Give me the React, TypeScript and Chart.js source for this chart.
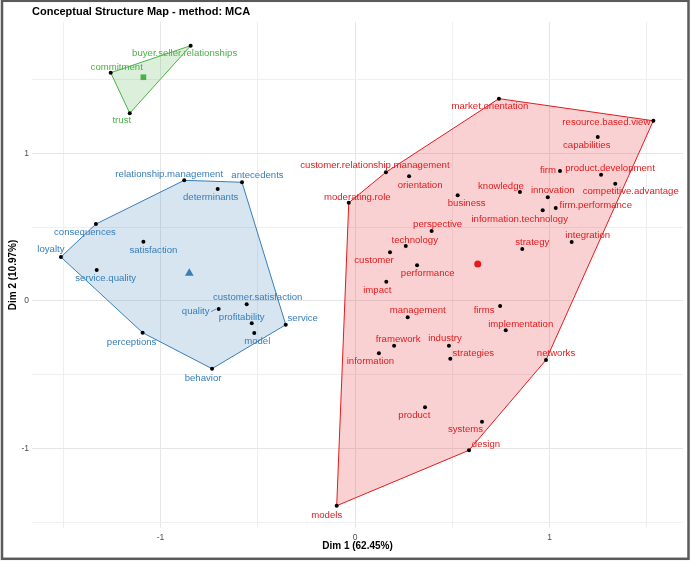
import React, { useEffect, useRef } from 'react';
import { Chart, registerables } from 'chart.js';

Chart.register(...registerables);

// ---------- data ----------
const titleText = 'Conceptual Structure Map - method: MCA';
const xTitle = 'Dim 1 (62.45%)';
const yTitle = 'Dim 2 (10.97%)';
const gridValues = [-1.5, -1, -0.5, 0, 0.5, 1, 1.5];

const greenWords = ['buyer.seller.relationships', 'commitment', 'trust'];
const greenX = [-0.845, -1.256, -1.158];
const greenY = [1.731, 1.548, 1.273];
const greenCentroid = [-1.088, 1.517];
const greenHull = ['commitment', 'buyer.seller.relationships', 'trust'];

const blueWords = [
  'relationship.management', 'antecedents', 'determinants', 'consequences', 'satisfaction',
  'loyalty', 'service.quality', 'customer.satisfaction', 'quality', 'profitability',
  'model', 'service', 'perceptions', 'behavior',
];
const blueX = [-0.878, -0.581, -0.706, -1.332, -1.088, -1.512, -1.328, -0.557, -0.701, -0.531, -0.518, -0.356, -1.092, -0.735];
const blueY = [0.818, 0.805, 0.759, 0.522, 0.402, 0.298, 0.21, -0.022, -0.054, -0.151, -0.217, -0.161, -0.215, -0.459];
const blueCentroid = [-0.852, 0.188];
const blueHull = ['loyalty', 'consequences', 'relationship.management', 'antecedents', 'service', 'behavior', 'perceptions'];

const redWords = [
  'market.orientation', 'resource.based.view', 'capabilities', 'customer.relationship.management',
  'orientation', 'firm', 'product.development', 'competitive.advantage', 'moderating.role',
  'business', 'knowledge', 'innovation', 'firm.performance', 'information.technology',
  'perspective', 'technology', 'integration', 'strategy', 'customer', 'performance', 'impact',
  'firms', 'management', 'implementation', 'framework', 'industry', 'information', 'strategies',
  'networks', 'product', 'systems', 'design', 'models',
];
const redX = [0.74, 1.534, 1.248, 0.159, 0.278, 1.054, 1.265, 1.338, -0.032, 0.528, 0.848, 0.991, 1.032, 0.965,
  0.394, 0.261, 1.114, 0.86, 0.18, 0.319, 0.161, 0.746, 0.271, 0.775, 0.201, 0.483, 0.123, 0.49,
  0.982, 0.36, 0.653, 0.586, -0.094];
const redY = [1.372, 1.222, 1.112, 0.873, 0.845, 0.881, 0.856, 0.795, 0.666, 0.717, 0.739, 0.703, 0.631, 0.615,
  0.475, 0.373, 0.4, 0.353, 0.33, 0.242, 0.131, -0.034, -0.111, -0.199, -0.303, -0.303, -0.355, -0.391,
  -0.4, -0.721, -0.818, -1.012, -1.388];
const redCentroid = [0.631, 0.251];
const redHull = ['models', 'design', 'networks', 'resource.based.view', 'market.orientation', 'customer.relationship.management', 'moderating.role'];

// ---------- styling / label placement (pixel offsets from each point) ----------
const GREEN = '#4daf4a';
const BLUE = '#377eb8';
const RED = '#e41a1c';
const labelOffsets: Record<string, [number, number]> = {
  'buyer.seller.relationships': [-6, 8], commitment: [6, -5], trust: [-8, 7.5],
  'relationship.management': [-15, -6], antecedents: [15.5, -6.6], determinants: [-7, 8.3],
  consequences: [-11, 8.3], satisfaction: [10, 8.6], loyalty: [-10, -7.3], 'service.quality': [9, 8],
  'customer.satisfaction': [11, -7], quality: [-23, 2.7], profitability: [-10, -6], model: [3, 8.7],
  service: [17, -6], perceptions: [-11, 9.6], behavior: [-9, 9.3],
  'market.orientation': [-9, 7.3], 'resource.based.view': [-47, 1.6], capabilities: [-11, 8.7],
  'customer.relationship.management': [-11, -7], orientation: [11, 9], firm: [-12, -1],
  'product.development': [9, -6.7], 'competitive.advantage': [15.5, 7.6], 'moderating.role': [8.5, -5.4],
  business: [9, 8.4], knowledge: [-19, -6], innovation: [5, -6.6], 'firm.performance': [40, -2.3],
  'information.technology': [-23, 9], perspective: [6, -6.3], technology: [9, -6], integration: [16, -6.7],
  strategy: [10, -6.3], customer: [-16, 8.4], performance: [10.7, 8], impact: [-9, 8.3], firms: [-16, 4],
  management: [10, -7], implementation: [15, -6.3], framework: [4, -6.7], industry: [-4, -7],
  information: [-8.5, 7.7], strategies: [23, -5.4], networks: [10, -6.7], product: [-10.7, 8.4],
  systems: [-16.5, 8], design: [17, -6], models: [-10, 9.6],
};
const segmentLabels = ['quality'];
const FONT = '"Liberation Sans", Arial, sans-serif';

const clusters = [
  { words: greenWords, xs: greenX, ys: greenY, hull: greenHull, color: GREEN, fill: 'rgba(77,175,74,0.2)' },
  { words: blueWords, xs: blueX, ys: blueY, hull: blueHull, color: BLUE, fill: 'rgba(55,126,184,0.2)' },
  { words: redWords, xs: redX, ys: redY, hull: redHull, color: RED, fill: 'rgba(228,26,28,0.2)' },
];

const toPts = (xs: number[], ys: number[]) => xs.map((x, i) => ({ x, y: ys[i] }));

const hullPlugin = {
  id: 'hulls',
  beforeDatasetsDraw(chart: any) {
    const { ctx, scales } = chart;
    const sx = scales.x, sy = scales.y;
    ctx.save();
    for (const c of clusters) {
      ctx.beginPath();
      c.hull.forEach((w, k) => {
        const i = c.words.indexOf(w);
        const px = sx.getPixelForValue(c.xs[i]);
        const py = sy.getPixelForValue(c.ys[i]);
        if (k === 0) ctx.moveTo(px, py); else ctx.lineTo(px, py);
      });
      ctx.closePath();
      ctx.fillStyle = c.fill;
      ctx.fill();
      ctx.strokeStyle = c.color;
      ctx.lineWidth = 1;
      ctx.stroke();
    }
    ctx.restore();
  },
};

const labelPlugin = {
  id: 'labels',
  afterDatasetsDraw(chart: any) {
    const { ctx, scales, chartArea } = chart;
    const sx = scales.x, sy = scales.y;
    ctx.save();
    ctx.font = `9.6px ${FONT}`;
    ctx.textAlign = 'center';
    ctx.textBaseline = 'middle';
    for (const c of clusters) {
      ctx.fillStyle = c.color;
      ctx.strokeStyle = c.color;
      c.words.forEach((w, i) => {
        const px = sx.getPixelForValue(c.xs[i]);
        const py = sy.getPixelForValue(c.ys[i]);
        const [dx, dy] = labelOffsets[w] || [0, 8];
        ctx.fillText(w, px + dx, py + dy);
        if (segmentLabels.includes(w)) {
          const hw = ctx.measureText(w).width / 2;
          ctx.beginPath();
          ctx.lineWidth = 0.8;
          ctx.moveTo(px + dx + hw + 1.5, py + dy);
          ctx.lineTo(px - 2.5, py);
          ctx.stroke();
        }
      });
    }
    // titles
    ctx.fillStyle = '#000';
    ctx.textAlign = 'left';
    ctx.font = `bold 11px ${FONT}`;
    ctx.fillText(titleText, chartArea.left, 12);
    ctx.textAlign = 'center';
    ctx.font = `bold 10px ${FONT}`;
    ctx.fillText(xTitle, (chartArea.left + chartArea.right) / 2, 546);
    ctx.save();
    ctx.translate(13, (chartArea.top + chartArea.bottom) / 2);
    ctx.rotate(-Math.PI / 2);
    ctx.fillText(yTitle, 0, 0);
    ctx.restore();
    // frame
    ctx.strokeStyle = '#5a5a5a';
    ctx.lineWidth = 2.5;
    ctx.strokeRect(2, 0.8, 686.5, 558);
    ctx.restore();
  },
};

export default function App() {
  const ref = useRef<HTMLCanvasElement | null>(null);
  useEffect(() => {
    document.body.style.margin = '0';
    document.body.style.background = '#fff';
    const canvas = ref.current;
    if (!canvas) return;
    const gridColor = (c: any) => (Number.isInteger(c.tick?.value) ? '#e6e6e6' : '#efefef');
    const chart = new Chart(canvas, {
      type: 'scatter',
      data: {
        datasets: [
          { data: toPts(greenX, greenY), backgroundColor: '#000', pointRadius: 2, borderWidth: 0 },
          { data: toPts(blueX, blueY), backgroundColor: '#000', pointRadius: 2, borderWidth: 0 },
          { data: toPts(redX, redY), backgroundColor: '#000', pointRadius: 2, borderWidth: 0 },
          { data: [{ x: greenCentroid[0], y: greenCentroid[1] }], backgroundColor: GREEN, pointStyle: 'rect', pointRadius: 4, borderWidth: 0 },
          { data: [{ x: blueCentroid[0], y: blueCentroid[1] }], backgroundColor: BLUE, pointStyle: 'triangle', pointRadius: 5, borderWidth: 0 },
          { data: [{ x: redCentroid[0], y: redCentroid[1] }], backgroundColor: RED, pointStyle: 'circle', pointRadius: 3.5, borderWidth: 0 },
        ],
      },
      options: {
        responsive: false,
        animation: false,
        devicePixelRatio: 1,
        layout: { padding: { left: 4, top: 22, right: 7, bottom: 4 } },
        plugins: { legend: { display: false }, tooltip: { enabled: false }, title: { display: false } },
        scales: {
          x: {
            type: 'linear',
            min: -1.6607,
            max: 1.6864,
            afterBuildTicks: (s: any) => { s.ticks = gridValues.map((v) => ({ value: v })); },
            afterFit: (s: any) => { s.height = 30; },
            border: { display: false },
            grid: { color: gridColor, lineWidth: 1, drawTicks: false },
            ticks: {
              padding: 5,
              color: '#4d4d4d',
              font: { size: 8.5, family: FONT },
              maxRotation: 0,
              autoSkip: false,
              callback: (v: any) => (Number.isInteger(v) ? String(v) : ''),
            },
          },
          y: {
            type: 'linear',
            min: -1.539,
            max: 1.8915,
            afterBuildTicks: (s: any) => { s.ticks = gridValues.map((v) => ({ value: v })); },
            afterFit: (s: any) => { s.width = 28; },
            border: { display: false },
            grid: { color: gridColor, lineWidth: 1, drawTicks: false },
            ticks: {
              padding: 3,
              color: '#4d4d4d',
              font: { size: 8.5, family: FONT },
              autoSkip: false,
              callback: (v: any) => (Number.isInteger(v) ? String(v) : ''),
            },
          },
        },
      },
      plugins: [hullPlugin, labelPlugin],
    } as any);
    return () => chart.destroy();
  }, []);
  return (
    <div style={{ position: 'absolute', left: 0, top: 0, width: 690, height: 562, background: '#fff' }}>
      <canvas ref={ref} width={690} height={562} style={{ display: 'block', width: 690, height: 562 }} />
    </div>
  );
}
